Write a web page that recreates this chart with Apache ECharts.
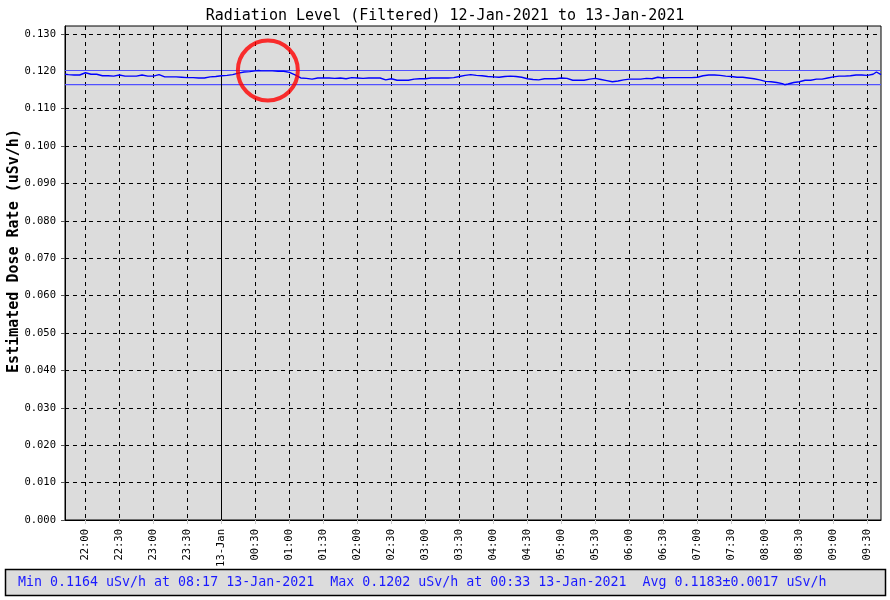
<!DOCTYPE html>
<html>
<head>
<meta charset="utf-8">
<script src="https://cdn.jsdelivr.net/npm/echarts@6/dist/echarts.min.js"></script>
<style>html,body{margin:0;padding:0;background:#fff}#c{width:890px;height:600px}</style>
</head>
<body>
<div id="c"></div>
<script>
var titleText = 'Radiation Level (Filtered) 12-Jan-2021 to 13-Jan-2021';
var yAxisTitle = 'Estimated Dose Rate (uSv/h)';
var statsText = 'Min 0.1164 uSv/h at 08:17 13-Jan-2021  Max 0.1202 uSv/h at 00:33 13-Jan-2021  Avg 0.1183\u00b10.0017 uSv/h';

var times = ['21:42','21:45','21:50','21:55','22:00','22:05','22:10','22:15','22:20','22:25','22:30','22:35','22:40','22:45','22:50','22:55',
 '23:00','23:05','23:10','23:15','23:20','23:25','23:30','23:35','23:40','23:45','23:50','23:55',
 '00:00','00:05','00:10','00:15','00:20','00:25','00:30','00:33','00:35','00:40','00:45','00:50','00:55',
 '01:00','01:05','01:10','01:15','01:20','01:25','01:30','01:35','01:40','01:45','01:50','01:55',
 '02:00','02:05','02:10','02:15','02:20','02:25','02:30','02:35','02:40','02:45','02:50','02:55',
 '03:00','03:05','03:10','03:15','03:20','03:25','03:30','03:35','03:40','03:45','03:50','03:55',
 '04:00','04:05','04:10','04:15','04:20','04:25','04:30','04:35','04:40','04:45','04:50','04:55',
 '05:00','05:05','05:10','05:15','05:20','05:25','05:30','05:35','05:40','05:45','05:50','05:55',
 '06:00','06:05','06:10','06:15','06:20','06:25','06:30','06:35','06:40','06:45','06:50','06:55',
 '07:00','07:05','07:10','07:15','07:20','07:25','07:30','07:35','07:40','07:45','07:50','07:55',
 '08:00','08:05','08:10','08:15','08:17','08:20','08:25','08:30','08:35','08:40','08:45','08:50','08:55',
 '09:00','09:05','09:10','09:15','09:20','09:25','09:30','09:35','09:38','09:42'];
var doseRate = [0.1192,0.1191,0.1190,0.1190,0.1196,0.1192,0.1192,0.1188,0.1188,0.1187,0.1190,0.1187,0.1187,0.1187,0.1190,0.1187,
 0.1187,0.1191,0.1185,0.1185,0.1185,0.1184,0.1183,0.1183,0.1182,0.1182,0.1185,0.1186,
 0.1188,0.1189,0.1191,0.1195,0.1198,0.1199,0.1201,0.1202,0.1201,0.1201,0.1201,0.1200,0.1200,
 0.1197,0.1190,0.1182,0.1181,0.1179,0.1182,0.1182,0.1182,0.1181,0.1182,0.1180,0.1183,
 0.1182,0.1181,0.1182,0.1182,0.1182,0.1177,0.1180,0.1176,0.1176,0.1176,0.1179,0.1180,
 0.1180,0.1182,0.1182,0.1182,0.1182,0.1183,0.1186,0.1189,0.1191,0.1189,0.1188,0.1186,
 0.1185,0.1184,0.1186,0.1187,0.1186,0.1184,0.1180,0.1178,0.1177,0.1180,0.1180,0.1180,
 0.1182,0.1181,0.1176,0.1176,0.1176,0.1179,0.1181,0.1178,0.1175,0.1172,0.1174,0.1177,
 0.1179,0.1179,0.1179,0.1181,0.1180,0.1184,0.1182,0.1183,0.1183,0.1183,0.1183,0.1183,
 0.1184,0.1188,0.1190,0.1190,0.1189,0.1187,0.1186,0.1184,0.1184,0.1182,0.1180,0.1177,
 0.1173,0.1172,0.1170,0.1167,0.1164,0.1166,0.1170,0.1172,0.1176,0.1176,0.1179,0.1179,0.1182,
 0.1185,0.1187,0.1187,0.1188,0.1190,0.1190,0.1189,0.1192,0.1198,0.1191];

var xTickTimes = ['22:00','22:30','23:00','23:30','00:00','00:30','01:00','01:30','02:00','02:30','03:00','03:30','04:00','04:30',
 '05:00','05:30','06:00','06:30','07:00','07:30','08:00','08:30','09:00','09:30'];
var xTickLabels = ['22:00','22:30','23:00','23:30','13-Jan','00:30','01:00','01:30','02:00','02:30','03:00','03:30','04:00','04:30',
 '05:00','05:30','06:00','06:30','07:00','07:30','08:00','08:30','09:00','09:30'];
var yTicks = [0,0.01,0.02,0.03,0.04,0.05,0.06,0.07,0.08,0.09,0.10,0.11,0.12,0.13];
var xRange = ['21:42','09:42'];
var yMax = 0.1321;
var dayBoundary = ['00:00'];
var minLevel = 0.1164;
var maxLevel = 0.1202;
var highlight = ['00:41', 0.1202];

function toMin(s){var p=s.split(':');var h=+p[0],m=+p[1];var v=h*60+m;return h>=12?v:v+1440;}

var seriesData = times.map(function(t,i){return [toMin(t), doseRate[i]];});
var tickVals = xTickTimes.map(toMin);
var labelMap = {};
tickVals.forEach(function(v,i){labelMap[v]=xTickLabels[i];});
var x0 = toMin(xRange[0]), x1 = toMin(xRange[1]);
// the 0.120 grid line is hidden under the max-level line in the original
var yGridTicks = yTicks.filter(function(v){return Math.abs(v - maxLevel) > 0.001;});

function levelSeries(level){
  return {type:'line',data:[[x0,level],[x1,level]],showSymbol:false,symbol:'none',silent:true,z:4,
    lineStyle:{color:'#5050ff',width:1.2}};
}

var mono = 'DejaVu Sans Mono';
var chart = echarts.init(document.getElementById('c'), null, {renderer:'canvas'});
chart.setOption({
  animation:false,
  backgroundColor:'#ffffff',
  title:{text:titleText,left:'center',top:4,textStyle:{fontFamily:mono,fontSize:15,fontWeight:'normal',color:'#000'}},
  grid:{left:65,right:9,top:26,bottom:80,show:true,backgroundColor:'#dcdcdc',borderColor:'#000',borderWidth:1},
  xAxis:{type:'value',min:x0,max:x1,
    axisLine:{show:true,onZero:false,lineStyle:{color:'#000',width:1}},
    axisTick:{show:true,customValues:tickVals,length:4,lineStyle:{color:'#c8c8c8'}},
    axisLabel:{customValues:tickVals,rotate:90,margin:9,fontFamily:mono,fontSize:10.5,color:'#000',
      formatter:function(v){return labelMap[v]||'';}},
    splitLine:{show:true,lineStyle:{color:'#000',type:[4,4],width:1}}
  },
  yAxis:{type:'value',min:0,max:yMax,
    axisLine:{show:true,lineStyle:{color:'#000'}},
    axisTick:{show:true,customValues:yGridTicks,length:4,lineStyle:{color:'#555'}},
    axisLabel:{customValues:yTicks,margin:9,fontFamily:mono,fontSize:10.5,color:'#000',formatter:function(v){return v.toFixed(3);}},
    splitLine:{show:true,lineStyle:{color:'#000',type:[4,4],width:1}}
  },
  graphic:[
    {type:'text',x:14,y:251,rotation:Math.PI/2,style:{text:yAxisTitle,font:'bold 15px "DejaVu Sans Mono"',fill:'#000',textAlign:'center',textVerticalAlign:'middle'}},
    {type:'rect',shape:{x:5.5,y:569.5,width:880,height:26},style:{fill:'#dcdcdc',stroke:'#000',lineWidth:1.5}},
    {type:'text',x:18,y:582.5,style:{text:statsText,font:'13.3px "DejaVu Sans Mono"',fill:'#1a1aff',textVerticalAlign:'middle'}}
  ],
  series:[
    levelSeries(minLevel),
    levelSeries(maxLevel),
    {type:'line',data:seriesData,showSymbol:false,symbol:'none',lineStyle:{color:'#0000ff',width:1.4},z:5,
      markLine:{silent:true,symbol:'none',label:{show:false},
        data:[{xAxis:toMin(dayBoundary[0]),lineStyle:{color:'#000',width:1,type:'solid'}}]}},
    {type:'scatter',data:[[toMin(highlight[0]),highlight[1]]],symbol:'circle',symbolSize:60,z:10,
      itemStyle:{color:'rgba(0,0,0,0)',borderColor:'#ff0000',borderWidth:4},silent:true}
  ]
});
</script>
</body>
</html>
